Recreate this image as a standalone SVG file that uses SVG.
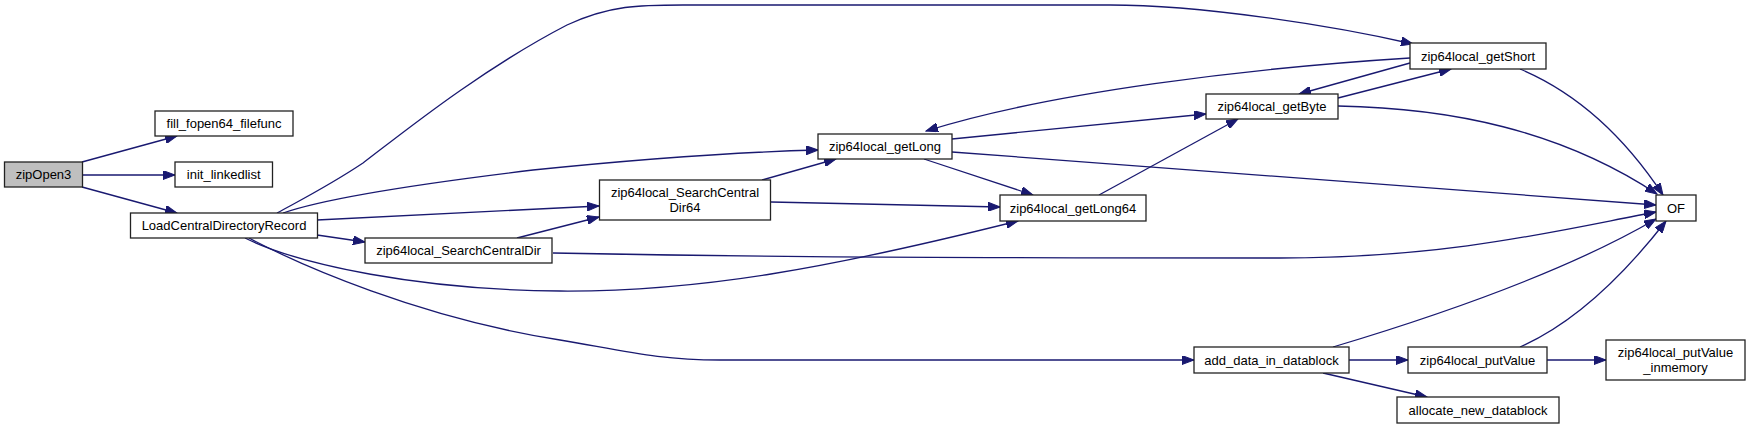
<svg xmlns="http://www.w3.org/2000/svg" width="1751" height="429" viewBox="0 0 1751 429">
<style>
.n rect{fill:#fff;stroke:#222;stroke-width:1.3}
.root rect{fill:#bfbfbf}
text{font-family:"Liberation Sans",Arial,sans-serif;font-size:13px;text-anchor:middle;fill:#000}
.e path{fill:none;stroke:#191970;stroke-width:1.3;marker-end:url(#ah)}
</style>
<defs>
<marker id="ah" markerUnits="userSpaceOnUse" markerWidth="13" markerHeight="9" refX="12" refY="4.5" orient="auto">
<path d="M0,0 L12,4.5 L0,9 z" fill="#191970" stroke="#191970" stroke-width="1"/>
</marker>
</defs>
<rect width="1751" height="429" fill="#fff"/>
<g id="edges" class="e">
<path d="M82,162 L177,136"/>
<path d="M82.5,175 L175,175"/>
<path d="M82,187 L177,213"/>
<path d="M277,213 C310,195 330,185 363,163 C400,135 480,70 567,25 C610,5 640,5 683,5 L1110,5 C1200,5 1330,25 1413,44"/>
<path d="M283,213 C320,200 400,186 533,170 C650,158 740,152 818,150"/>
<path d="M317,220 L599,206"/>
<path d="M317,235 L365,242"/>
<path d="M517,238 L599,217"/>
<path d="M245,238 C300,265 420,290 560,291 C700,292 830,268 1018,221"/>
<path d="M249,238 C300,265 420,318 560,340 C630,352 660,360 720,360 L1194,360"/>
<path d="M553,253 C700,256 850,258 1280,258 C1450,258 1560,230 1656,212"/>
<path d="M762,180 L836,159"/>
<path d="M771,202 L1000,207"/>
<path d="M952,139 L1206,114"/>
<path d="M924,159 L1033,195"/>
<path d="M952,152 L1656,205"/>
<path d="M1099,195 L1238,119"/>
<path d="M1338,98 L1451,69"/>
<path d="M1410,63 L1299,94"/>
<path d="M1410,58 C1250,68 1050,92 926,131"/>
<path d="M1520,69 C1570,90 1620,130 1663,195"/>
<path d="M1338,106 C1450,108 1560,130 1657,194"/>
<path d="M1333,347 C1430,318 1560,275 1656,219"/>
<path d="M1520,347 C1570,325 1620,280 1666,221"/>
<path d="M1349,360 L1408,360"/>
<path d="M1547,360 L1606,360"/>
<path d="M1323,373 L1427,397"/>
</g>
<g id="zipOpen3" class="n root"><rect x="4.5" y="162" width="78" height="25"/><text x="43.5" y="179">zipOpen3</text></g>
<g id="fill_fopen64_filefunc" class="n"><rect x="155" y="111" width="138" height="25"/><text x="224" y="128">fill_fopen64_filefunc</text></g>
<g id="init_linkedlist" class="n"><rect x="175" y="162" width="97.5" height="25"/><text x="223.7" y="179">init_linkedlist</text></g>
<g id="LoadCentralDirectoryRecord" class="n"><rect x="130.5" y="213" width="187" height="25"/><text x="224" y="230">LoadCentralDirectoryRecord</text></g>
<g id="zip64local_SearchCentralDir" class="n"><rect x="365" y="238" width="187" height="25"/><text x="458.5" y="255">zip64local_SearchCentralDir</text></g>
<g id="zip64local_SearchCentralDir64" class="n"><rect x="599.5" y="180" width="171" height="40"/><text x="685" y="196.5">zip64local_SearchCentral</text><text x="685" y="211.5">Dir64</text></g>
<g id="zip64local_getLong" class="n"><rect x="818" y="134" width="134" height="25"/><text x="885" y="151">zip64local_getLong</text></g>
<g id="zip64local_getLong64" class="n"><rect x="1000" y="195" width="146" height="26"/><text x="1073" y="212.5">zip64local_getLong64</text></g>
<g id="zip64local_getByte" class="n"><rect x="1206" y="94" width="132" height="25"/><text x="1272" y="111">zip64local_getByte</text></g>
<g id="zip64local_getShort" class="n"><rect x="1410" y="43" width="136" height="26"/><text x="1478" y="60.5">zip64local_getShort</text></g>
<g id="OF" class="n"><rect x="1656" y="195" width="40" height="26"/><text x="1676" y="212.5">OF</text></g>
<g id="add_data_in_datablock" class="n"><rect x="1194" y="347" width="155" height="26"/><text x="1271.5" y="364.5">add_data_in_datablock</text></g>
<g id="zip64local_putValue" class="n"><rect x="1408" y="347" width="139" height="26"/><text x="1477.5" y="364.5">zip64local_putValue</text></g>
<g id="zip64local_putValue_inmemory" class="n"><rect x="1606" y="340" width="139" height="40"/><text x="1675.5" y="357">zip64local_putValue</text><text x="1675.5" y="372">_inmemory</text></g>
<g id="allocate_new_datablock" class="n"><rect x="1397" y="397" width="162" height="26"/><text x="1478" y="414.5">allocate_new_datablock</text></g>
</svg>
